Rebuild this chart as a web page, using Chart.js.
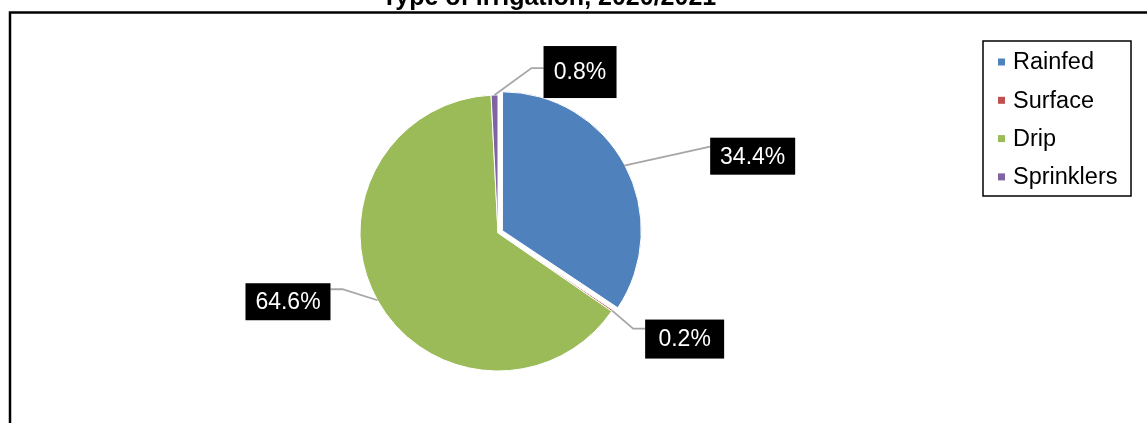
<!DOCTYPE html>
<html>
<head>
<meta charset="utf-8">
<script src="https://cdn.jsdelivr.net/npm/chart.js@4"></script>
<style>
  html, body { margin: 0; padding: 0; background: #fff; }
  canvas { display: block; }
</style>
</head>
<body>
<canvas id="irrigationChart" width="1147" height="423"></canvas>
<script>
const titleText = 'Type of irrigation, 2020/2021';
const categories = ['Rainfed', 'Surface', 'Drip', 'Sprinklers'];
const shares = [34.4, 0.2, 64.6, 0.8];
const valueLabels = ['34.4%', '0.2%', '64.6%', '0.8%'];
const sliceColors = ['#4f81bd', '#c0504d', '#9bbb59', '#8064a2'];

const FONT = 'Arial, "Liberation Sans", sans-serif';

// data label boxes, relative to the point where the leader line leaves the slice
// box: [dx, dy, w, h], path: leader line points after the anchor
const labelLayout = [
  { box: [86, -28, 85, 37], path: [[86, -19]] },
  { box: [33, 9, 79, 39], path: [[21, 18], [33, 18]] },
  { box: [-132, -17, 85, 37], path: [[-35, -11], [-47, -11]] },
  { box: [49, -49, 73, 52], path: [[37, -27], [49, -27]] }
];

const framePlugin = {
  id: 'frame',
  beforeDraw(chart) {
    const ctx = chart.ctx;
    ctx.save();
    ctx.strokeStyle = '#000';
    ctx.lineWidth = 2.5;
    ctx.beginPath();
    ctx.moveTo(10, chart.height);
    ctx.lineTo(10, 12.5);
    ctx.lineTo(chart.width, 12.5);
    ctx.stroke();
    ctx.fillStyle = '#000';
    ctx.font = 'bold 25px ' + FONT;
    ctx.textAlign = 'center';
    ctx.textBaseline = 'alphabetic';
    ctx.fillText(titleText, 549, 5);
    ctx.restore();
  }
};

const labelPlugin = {
  id: 'sliceLabels',
  afterDatasetsDraw(chart) {
    const ctx = chart.ctx;
    const meta = chart.getDatasetMeta(0);
    ctx.save();
    meta.data.forEach((arc, i) => {
      const lay = labelLayout[i];
      const mid = (arc.startAngle + arc.endAngle) / 2;
      const r = arc.outerRadius + (arc.options.offset || 0) / 4;
      const ax = arc.x + Math.cos(mid) * r;
      const ay = arc.y + Math.sin(mid) * r;

      ctx.strokeStyle = '#a6a6a6';
      ctx.lineWidth = 1.8;
      ctx.beginPath();
      ctx.moveTo(ax, ay);
      lay.path.forEach(p => ctx.lineTo(ax + p[0], ay + p[1]));
      ctx.stroke();

      const [dx, dy, w, h] = lay.box;
      ctx.fillStyle = '#000';
      ctx.fillRect(ax + dx, ay + dy, w, h);
      ctx.fillStyle = '#fff';
      ctx.font = '23px ' + FONT;
      ctx.textAlign = 'center';
      ctx.textBaseline = 'middle';
      ctx.fillText(valueLabels[i], ax + dx + w / 2, ay + dy + h / 2 + 1);
    });
    ctx.restore();
  }
};

const legendPlugin = {
  id: 'boxLegend',
  afterDraw(chart) {
    const ctx = chart.ctx;
    const left = 983, top = 41, width = 148, height = 155;
    ctx.save();
    ctx.strokeStyle = '#000';
    ctx.lineWidth = 1.5;
    ctx.strokeRect(left, top, width, height);
    ctx.font = '23.5px ' + FONT;
    ctx.textAlign = 'left';
    ctx.textBaseline = 'middle';
    chart.data.labels.forEach((name, i) => {
      const y = top + 21 + i * 38.3;
      ctx.fillStyle = chart.data.datasets[0].backgroundColor[i];
      ctx.fillRect(left + 15, y - 3.5, 7, 7);
      ctx.fillStyle = '#000';
      ctx.fillText(name, left + 30, y + 1);
    });
    ctx.restore();
  }
};

new Chart(document.getElementById('irrigationChart'), {
  type: 'pie',
  data: {
    labels: categories,
    datasets: [{
      data: shares,
      backgroundColor: sliceColors,
      borderColor: '#fff',
      borderWidth: 1,
      offset: [20, 0, 0, 0]
    }]
  },
  options: {
    responsive: false,
    animation: false,
    events: [],
    radius: 138,
    layout: { padding: { left: 200, right: 351, top: 63, bottom: 20 } },
    plugins: {
      legend: { display: false },
      title: { display: false },
      tooltip: { enabled: false }
    }
  },
  plugins: [framePlugin, labelPlugin, legendPlugin]
});
</script>
</body>
</html>
